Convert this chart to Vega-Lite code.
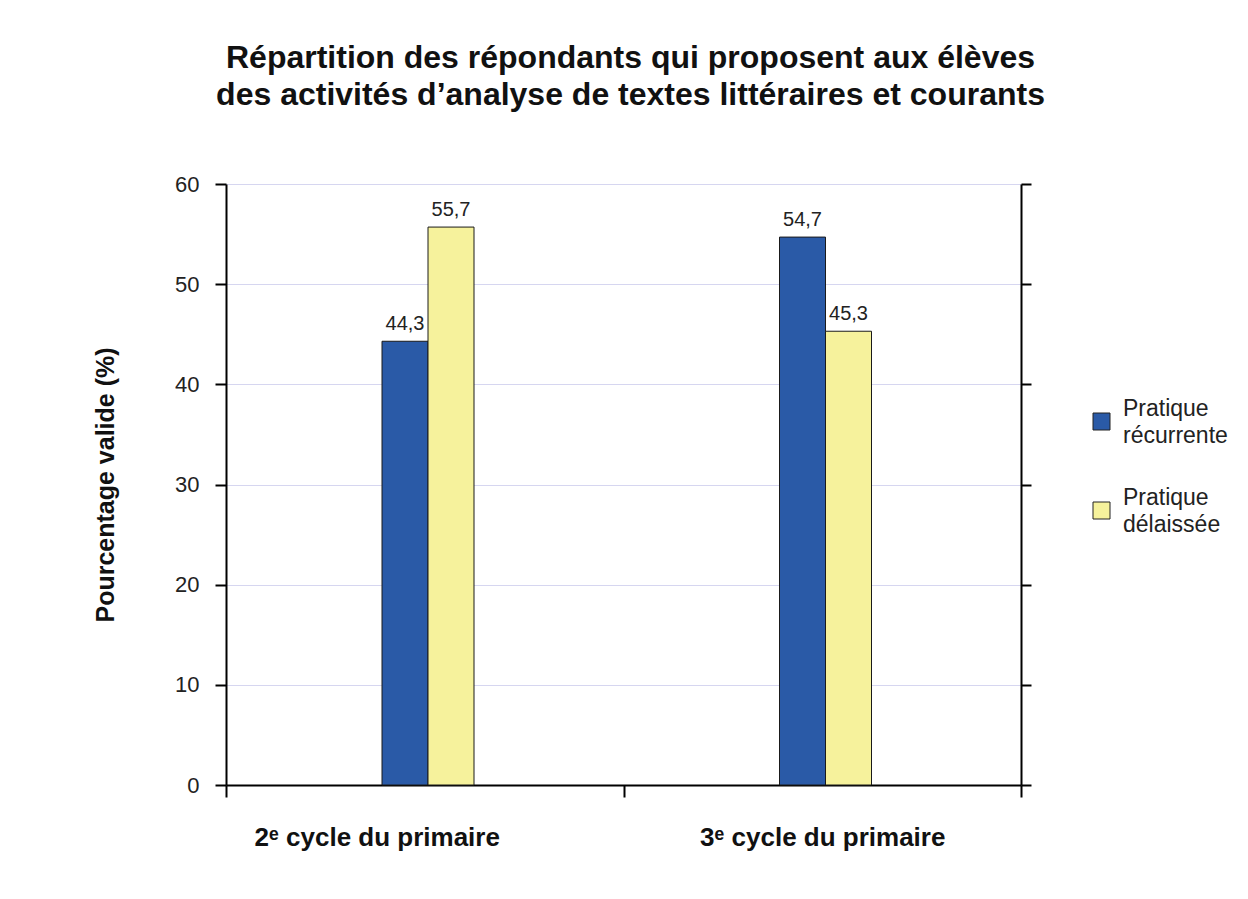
{
  "$schema": "https://vega.github.io/schema/vega-lite/v6.json",
  "width": 795,
  "height": 601,
  "autosize": {"type": "none"},
  "padding": {"left": 226, "top": 184, "right": 227, "bottom": 114},
  "background": "white",
  "title": {
    "text": ["Répartition des répondants qui proposent aux élèves", "des activités d’analyse de textes littéraires et courants"],
    "font": "Liberation Sans",
    "fontSize": 32,
    "fontWeight": "bold",
    "lineHeight": 37,
    "anchor": "middle",
    "dx": 7,
    "offset": 61,
    "color": "#111111"
  },
  "data": {
    "values": [
      {"cycle": "2ᵉ cycle du primaire", "pratique": "Pratique récurrente", "pct": 44.3},
      {"cycle": "2ᵉ cycle du primaire", "pratique": "Pratique délaissée", "pct": 55.7},
      {"cycle": "3ᵉ cycle du primaire", "pratique": "Pratique récurrente", "pct": 54.7},
      {"cycle": "3ᵉ cycle du primaire", "pratique": "Pratique délaissée", "pct": 45.3}
    ]
  },
  "encoding": {
    "x": {
      "field": "cycle",
      "type": "nominal",
      "sort": ["2ᵉ cycle du primaire", "3ᵉ cycle du primaire"],
      "scale": {"paddingInner": 0, "paddingOuter": 0},
      "axis": {
        "title": null,
        "tickBand": "extent",
        "labelAngle": 0,
        "labelLimit": 400,
        "labelFont": "Liberation Sans",
        "labelFontSize": 26,
        "labelFontWeight": "bold",
        "labelColor": "#111111",
        "labelPadding": 27,
        "labelOffset": {"condition": {"test": "datum.value === '2ᵉ cycle du primaire'", "value": -48}, "value": 0},
        "domainColor": "#000000",
        "domainWidth": 2,
        "tickColor": "#000000",
        "tickWidth": 2,
        "tickSize": 12,
        "grid": false
      }
    },
    "xOffset": {
      "field": "pratique",
      "type": "nominal",
      "sort": ["Pratique récurrente", "Pratique délaissée"],
      "scale": {"paddingInner": 0, "paddingOuter": 0, "range": [156, 248]}
    }
  },
  "layer": [
    {
      "mark": {"type": "bar", "stroke": "#1a1a1a", "strokeWidth": 1},
      "encoding": {
        "y": {
          "field": "pct",
          "type": "quantitative",
          "scale": {"domain": [0, 60], "nice": false},
          "axis": {
            "title": "Pourcentage valide (%)",
            "titleFont": "Liberation Sans",
            "titleFontSize": 25,
            "titleFontWeight": "bold",
            "titleColor": "#111111",
            "titlePadding": 56,
            "values": [0, 10, 20, 30, 40, 50, 60],
            "labelFont": "Liberation Sans",
            "labelFontSize": 22,
            "labelColor": "#222222",
            "labelPadding": 16,
            "tickSize": 11,
            "tickWidth": 2,
            "tickColor": "#000000",
            "domainColor": "#000000",
            "domainWidth": 2,
            "grid": true,
            "gridColor": "#d6d6f0",
            "gridWidth": 1
          }
        },
        "color": {
          "field": "pratique",
          "type": "nominal",
          "scale": {
            "domain": ["Pratique récurrente", "Pratique délaissée"],
            "range": ["#2a5aa7", "#f6f29c"]
          },
          "legend": {
            "title": null,
            "orient": "none",
            "legendX": 864,
            "legendY": 213,
            "padding": 0,
            "symbolType": "M-1,0.53H1V2.53H-1Z",
            "symbolSize": 289,
            "symbolStrokeColor": "#222222",
            "symbolStrokeWidth": 1,
            "labelFont": "Liberation Sans",
            "labelFontSize": 23,
            "labelColor": "#222222",
            "labelLimit": 300,
            "labelOffset": 10,
            "labelExpr": "split(datum.label, ' ')",
            "rowPadding": 38,
            "encode": {
              "labels": {"update": {"lineHeight": {"value": 27}}}
            }
          }
        }
      }
    },
    {
      "mark": {
        "type": "text",
        "font": "Liberation Sans",
        "fontSize": 20,
        "color": "#222222",
        "baseline": "alphabetic",
        "dy": -11
      },
      "encoding": {
        "y": {
          "field": "pct",
          "type": "quantitative",
          "scale": {"domain": [0, 60], "nice": false},
          "axis": {
            "orient": "right",
            "title": null,
            "labels": false,
            "values": [0, 10, 20, 30, 40, 50, 60],
            "tickSize": 10,
            "tickWidth": 2,
            "tickColor": "#000000",
            "domainColor": "#000000",
            "domainWidth": 2,
            "grid": false
          }
        },
        "text": {"field": "pct", "type": "quantitative", "format": ".1f"}
      }
    }
  ],
  "resolve": {"axis": {"y": "independent"}},
  "config": {
    "view": {"stroke": null},
    "locale": {
      "number": {"decimal": ",", "thousands": " ", "grouping": [3], "currency": ["", " €"]}
    }
  }
}
